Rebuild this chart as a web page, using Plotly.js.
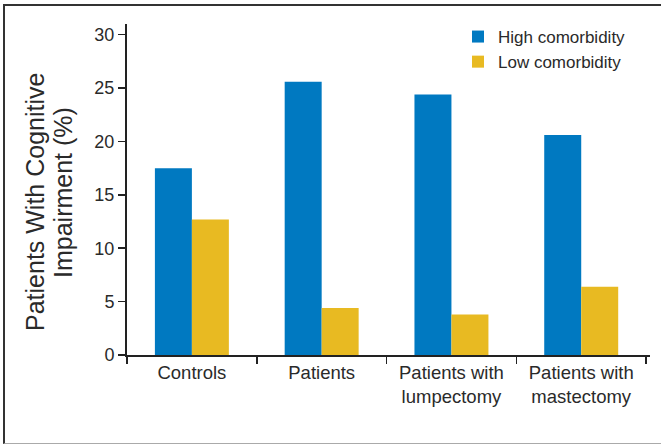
<!DOCTYPE html>
<html>
<head>
<meta charset="utf-8">
<script src="https://cdn.plot.ly/plotly-3.0.1.min.js"></script>
<style>
  html, body { margin: 0; padding: 0; background: #fff; }
  #wrap { position: relative; width: 661px; height: 445px; overflow: hidden; }
  #chart { position: absolute; left: 0; top: 0; width: 661px; height: 445px; }
  #frame { position: absolute; left: 3px; top: 4px; width: 700px; height: 437px;
           border-top: 2px solid #333; border-left: 2px solid #333; border-bottom: 1px solid #aaa;
           pointer-events: none; }
</style>
</head>
<body>
<div id="wrap">
  <div id="chart"></div>
  <div id="frame"></div>
</div>
<script>
// ---- data ----
const categories = ["Controls", "Patients", "Patients with<br>lumpectomy", "Patients with<br>mastectomy"];
const seriesNames = ["High comorbidity", "Low comorbidity"];
const highComorbidity = [17.5, 25.6, 24.4, 20.6];
const lowComorbidity = [12.7, 4.4, 3.8, 6.4];
const yTickVals = [0, 5, 10, 15, 20, 25, 30];
const yTitleLines = ["Patients With Cognitive", "Impairment (%)"];

// ---- layout constants ----
const W = 661, H = 445;
const M = { l: 127, r: 11, t: 24, b: 90 };
const PW = W - M.l - M.r, PH = H - M.t - M.b;
const px2x = px => (px - M.l) / PW;
const px2y = py => (H - M.b - py) / PH;

const FONT = "Liberation Sans, Arial, sans-serif";
const TXT = "#2a2a2a";

const traces = [
  { type: "bar", name: seriesNames[0], x: categories, y: highComorbidity,
    marker: { color: "#0079C1", line: { width: 0 } } },
  { type: "bar", name: seriesNames[1], x: categories, y: lowComorbidity,
    marker: { color: "#E8BA22", line: { width: 0 } } }
];

const layout = {
  width: W, height: H,
  margin: M,
  paper_bgcolor: "rgba(0,0,0,0)",
  plot_bgcolor: "rgba(0,0,0,0)",
  font: { family: FONT, color: TXT, size: 18 },
  barmode: "group",
  bargap: 0.43,
  bargroupgap: 0,
  showlegend: true,
  legend: {
    x: px2x(458), y: px2y(19), xanchor: "left", yanchor: "top",
    font: { family: FONT, size: 17, color: TXT },
    bgcolor: "rgba(0,0,0,0)", borderwidth: 0, tracegroupgap: 0
  },
  xaxis: {
    type: "category",
    range: [-0.5, 3.53],
    tickson: "boundaries",
    ticks: "outside", ticklen: 7, tickwidth: 1.5, tickcolor: "#222",
    showline: true, linecolor: "#222", linewidth: 2,
    showgrid: false, zeroline: false,
    tickfont: { family: FONT, size: 18.5, color: TXT },
    fixedrange: true
  },
  yaxis: {
    range: [0, 31],
    tickmode: "array", tickvals: yTickVals, ticktext: yTickVals.map(String),
    ticks: "outside", ticklen: 7, tickwidth: 1.5, tickcolor: "#222",
    showline: true, linecolor: "#222", linewidth: 2,
    showgrid: false, zeroline: false,
    tickfont: { family: FONT, size: 18, color: TXT },
    fixedrange: true
  },
  annotations: [
    { text: yTitleLines[0], xref: "paper", yref: "paper", x: px2x(35), y: px2y(202),
      xanchor: "center", yanchor: "middle", textangle: -90, showarrow: false,
      font: { family: FONT, size: 25, color: TXT } },
    { text: yTitleLines[1], xref: "paper", yref: "paper", x: px2x(63), y: px2y(193),
      xanchor: "center", yanchor: "middle", textangle: -90, showarrow: false,
      font: { family: FONT, size: 25, color: TXT } }
  ]
};

Plotly.newPlot("chart", traces, layout, { staticPlot: true, displayModeBar: false });
</script>
</body>
</html>
